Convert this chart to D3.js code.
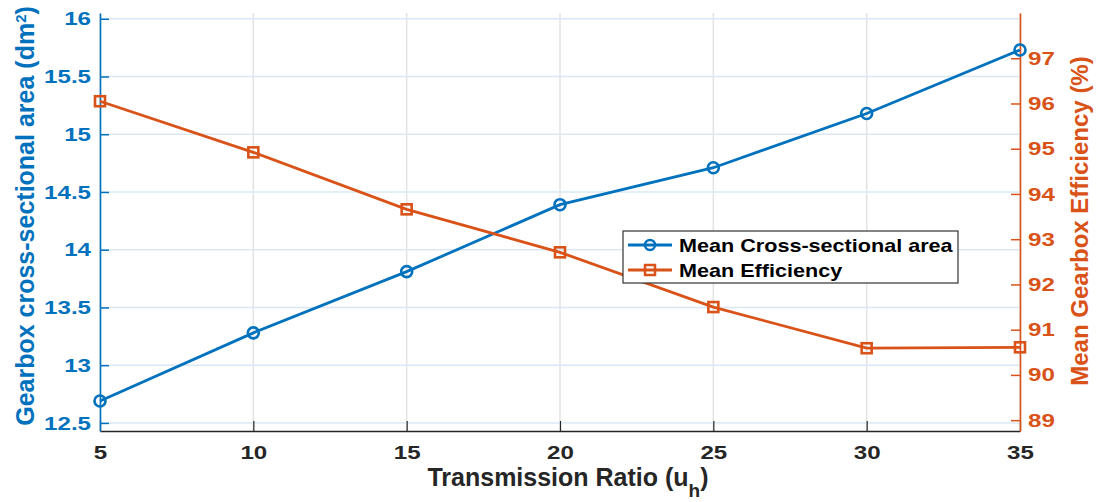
<!DOCTYPE html>
<html><head><meta charset="utf-8">
<script src="https://cdn.jsdelivr.net/npm/d3@7"></script>
<style>body{margin:0;background:#fff}svg{display:block}text{font-family:"Liberation Sans",Arial,sans-serif;font-weight:bold}</style>
</head><body><svg id="c" width="1096" height="502"></svg>
<script>
const ratios = [5, 10, 15, 20, 25, 30, 35];
const areaValues = [12.69, 13.28, 13.81, 14.39, 14.71, 15.18, 15.73];
const efficiencyValues = [96.05, 94.92, 93.66, 92.71, 91.50, 90.59, 90.61];
const xTicks = [5, 10, 15, 20, 25, 30, 35];
const leftTicks = [12.5, 13, 13.5, 14, 14.5, 15, 15.5, 16];
const rightTicks = [89, 90, 91, 92, 93, 94, 95, 96, 97];
const seriesNames = ["Mean Cross-sectional area", "Mean Efficiency"];

const blue = "#0072BD", orange = "#D95319", dark = "#262626";
const SX = 1.27; // horizontal stretch of the small text
const svg = d3.select("#c");
const L = 100, R = 1020, T = 13, B = 431;
const x = d3.scaleLinear().domain([5, 35]).range([L, R]);
const yL = d3.scaleLinear().domain([12.43, 16.05]).range([B, T]);
const yR = d3.scaleLinear().domain([88.76, 98.0]).range([B, T]);

// grid
const g = svg.append("g");
g.selectAll(".vg").data(xTicks).join("line")
  .attr("x1", d => x(d)).attr("x2", d => x(d)).attr("y1", T).attr("y2", B)
  .attr("stroke", "#e3e3e3").attr("stroke-width", 1.5);
g.selectAll(".hg").data(leftTicks).join("line")
  .attr("x1", L).attr("x2", R).attr("y1", d => yL(d)).attr("y2", d => yL(d))
  .attr("stroke", "#dbe8f4").attr("stroke-width", 1.5);

// axes
const xAxis = svg.append("g").attr("transform", `translate(0,${B})`)
  .call(d3.axisBottom(x).tickValues(xTicks).tickSizeInner(-10).tickSizeOuter(0).tickPadding(15));
xAxis.select(".domain").attr("stroke", dark).attr("stroke-width", 1.6);
xAxis.selectAll(".tick line").attr("stroke", dark).attr("stroke-width", 1.2);
xAxis.selectAll("text").attr("fill", dark).attr("font-size", 19).attr("font-weight", "bold")
  .attr("transform", `scale(${SX},1)`);

const lAxis = svg.append("g").attr("transform", `translate(${L},0)`)
  .call(d3.axisLeft(yL).tickValues(leftTicks).tickFormat(d3.format("")).tickSizeInner(-9).tickSizeOuter(0));
lAxis.select(".domain").attr("stroke", blue).attr("stroke-width", 1.6);
lAxis.selectAll(".tick line").attr("stroke", blue).attr("stroke-width", 1.5);
lAxis.selectAll("text").attr("fill", blue).attr("font-size", 19).attr("font-weight", "bold")
  .attr("x", -9 / SX).attr("transform", `scale(${SX},1)`);

const rAxis = svg.append("g").attr("transform", `translate(${R},0)`)
  .call(d3.axisRight(yR).tickValues(rightTicks).tickSizeInner(-9).tickSizeOuter(0));
rAxis.select(".domain").attr("stroke", orange).attr("stroke-width", 1.6);
rAxis.selectAll(".tick line").attr("stroke", orange).attr("stroke-width", 1.5);
rAxis.selectAll("text").attr("fill", orange).attr("font-size", 19).attr("font-weight", "bold")
  .attr("x", 8 / SX).attr("transform", `scale(${SX},1)`);

// lines
const dataA = ratios.map((r, i) => [r, areaValues[i]]);
const dataE = ratios.map((r, i) => [r, efficiencyValues[i]]);
svg.append("path").datum(dataA)
  .attr("d", d3.line().x(d => x(d[0])).y(d => yL(d[1])))
  .attr("fill", "none").attr("stroke", blue).attr("stroke-width", 2.8);
svg.append("path").datum(dataE)
  .attr("d", d3.line().x(d => x(d[0])).y(d => yR(d[1])))
  .attr("fill", "none").attr("stroke", orange).attr("stroke-width", 2.8);
svg.selectAll(".ma").data(dataA).join("circle")
  .attr("cx", d => x(d[0])).attr("cy", d => yL(d[1])).attr("r", 5.5)
  .attr("fill", "none").attr("stroke", blue).attr("stroke-width", 2.6);
svg.selectAll(".me").data(dataE).join("rect")
  .attr("x", d => x(d[0]) - 5).attr("y", d => yR(d[1]) - 5).attr("width", 10).attr("height", 10)
  .attr("fill", "none").attr("stroke", orange).attr("stroke-width", 2.6);

// axis titles
svg.append("text").attr("x", 568).attr("y", 486).attr("text-anchor", "middle")
  .attr("font-size", 25).attr("fill", dark)
  .html('Transmission Ratio (u<tspan baseline-shift="sub" font-size="19">h</tspan>)');
svg.append("text").attr("transform", `translate(34,216) rotate(-90)`).attr("text-anchor", "middle")
  .attr("font-size", 25).attr("fill", blue)
  .html('Gearbox cross-sectional area (dm<tspan baseline-shift="super" font-size="15">2</tspan>)');
svg.append("text").attr("transform", `translate(1088,221) rotate(-90)`).attr("text-anchor", "middle")
  .attr("font-size", 24).attr("fill", orange)
  .text("Mean Gearbox Efficiency (%)");

// legend
const lg = svg.append("g");
lg.append("rect").attr("x", 623).attr("y", 231).attr("width", 335).attr("height", 52)
  .attr("fill", "#fff").attr("stroke", "#333").attr("stroke-width", 1.2);
const colors = [blue, orange];
seriesNames.forEach((n, i) => {
  const yy = 245 + i * 25;
  lg.append("line").attr("x1", 628).attr("x2", 672).attr("y1", yy).attr("y2", yy)
    .attr("stroke", colors[i]).attr("stroke-width", 2.8);
  if (i === 0) lg.append("circle").attr("cx", 650).attr("cy", yy).attr("r", 5)
    .attr("fill", "none").attr("stroke", blue).attr("stroke-width", 2.5);
  else lg.append("rect").attr("x", 645).attr("y", yy - 5).attr("width", 10).attr("height", 10)
    .attr("fill", "none").attr("stroke", orange).attr("stroke-width", 2.5);
  lg.append("text").attr("transform", `translate(679,${yy + 7}) scale(1.2,1)`)
    .attr("font-size", 18).attr("fill", "#000").text(n);
});
</script></body></html>
